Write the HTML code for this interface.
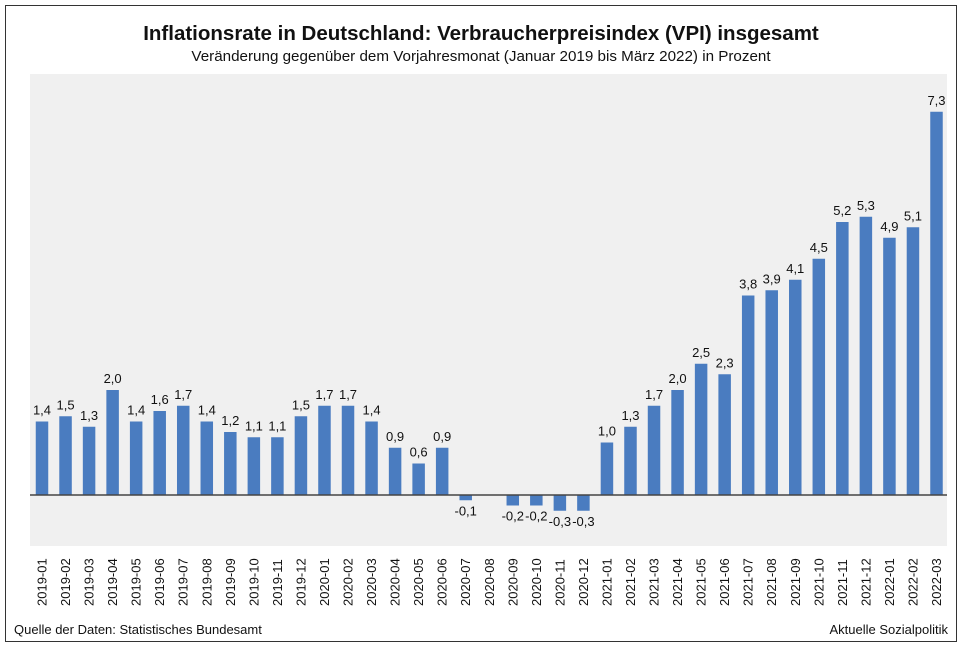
<!DOCTYPE html>
<html><head><meta charset="utf-8"><style>
body{margin:0;background:#fff;width:963px;height:647px;overflow:hidden;font-family:"Liberation Sans",Arial,sans-serif}
</style></head><body>
<svg id="chart" width="963" height="647" xmlns="http://www.w3.org/2000/svg" font-family="Liberation Sans, Arial, sans-serif">
<rect x="5.5" y="5.5" width="951" height="636" fill="#fff" stroke="#333" stroke-width="1"/>
<text x="481" y="40" text-anchor="middle" font-size="20.5" font-weight="bold" fill="#111">Inflationsrate in Deutschland: Verbraucherpreisindex (VPI) insgesamt</text>
<text x="481" y="61" text-anchor="middle" font-size="15.2" fill="#111">Veränderung gegenüber dem Vorjahresmonat (Januar 2019 bis März 2022) in Prozent</text>
<rect x="30" y="74" width="917" height="472" fill="#f0f0f0"/>
<g id="bars"></g>
<line x1="30" x2="947" y1="495" y2="495" stroke="#444" stroke-width="1.5"/>
<text x="14" y="634" font-size="13" fill="#111">Quelle der Daten: Statistisches Bundesamt</text>
<text x="948" y="634" text-anchor="end" font-size="13" fill="#111">Aktuelle Sozialpolitik</text>
</svg>
<script>
const categories=["2019-01","2019-02","2019-03","2019-04","2019-05","2019-06","2019-07","2019-08","2019-09","2019-10","2019-11","2019-12","2020-01","2020-02","2020-03","2020-04","2020-05","2020-06","2020-07","2020-08","2020-09","2020-10","2020-11","2020-12","2021-01","2021-02","2021-03","2021-04","2021-05","2021-06","2021-07","2021-08","2021-09","2021-10","2021-11","2021-12","2022-01","2022-02","2022-03"];
const values=[1.4,1.5,1.3,2.0,1.4,1.6,1.7,1.4,1.2,1.1,1.1,1.5,1.7,1.7,1.4,0.9,0.6,0.9,-0.1,0.0,-0.2,-0.2,-0.3,-0.3,1.0,1.3,1.7,2.0,2.5,2.3,3.8,3.9,4.1,4.5,5.2,5.3,4.9,5.1,7.3];
const labels=["1,4","1,5","1,3","2,0","1,4","1,6","1,7","1,4","1,2","1,1","1,1","1,5","1,7","1,7","1,4","0,9","0,6","0,9","-0,1","","-0,2","-0,2","-0,3","-0,3","1,0","1,3","1,7","2,0","2,5","2,3","3,8","3,9","4,1","4,5","5,2","5,3","4,9","5,1","7,3"];
const NS="http://www.w3.org/2000/svg";
const g=document.getElementById('bars');
const x0=42,x1=936.5,step=(x1-x0)/(categories.length-1);
function xs(i){return x0+i*step;}
function ys(v){return 495-v*52.5;}
const bw=12.5;
categories.forEach((c,i)=>{
  const v=values[i],cx=xs(i);
  const top=Math.min(ys(v),ys(0)),h=Math.abs(ys(v)-ys(0));
  const r=document.createElementNS(NS,'rect');
  
  
  r.setAttribute('x',cx-bw/2);r.setAttribute('y',top);r.setAttribute('width',bw);r.setAttribute('height',h);
  r.setAttribute('fill','#4a7cc0');
  g.appendChild(r);
  if(labels[i]){
    const t=document.createElementNS(NS,'text');
    
    
    t.setAttribute('x',cx);
    t.setAttribute('y',v>=0?ys(v)-7:ys(v)+15);
    t.setAttribute('text-anchor','middle');t.setAttribute('font-size','13');t.setAttribute('fill','#111');
    t.textContent=labels[i];g.appendChild(t);
  }
  const l=document.createElementNS(NS,'text');
  
  
  l.setAttribute('transform','translate('+(cx+4.5)+',606) rotate(-90)');
  l.setAttribute('font-size','13');l.setAttribute('fill','#111');
  l.textContent=c;g.appendChild(l);
});
</script>
</body></html>
